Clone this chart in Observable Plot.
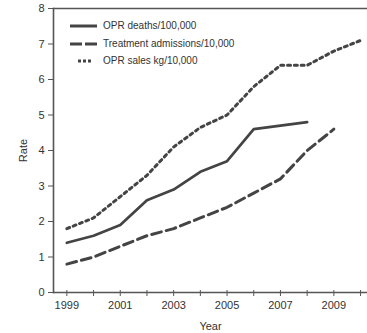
<!DOCTYPE html>
<html>
<head>
<meta charset="utf-8">
<script src="https://cdn.jsdelivr.net/npm/d3@7"></script>
<script src="https://cdn.jsdelivr.net/npm/@observablehq/plot@0.6"></script>
<style>
  html, body { margin: 0; padding: 0; background: #fff; }
  #chart { position: relative; width: 367px; height: 333px; }
  #legend { position: absolute; left: 0; top: 0; font-family: "Liberation Sans", Arial, sans-serif; font-size: 10px; color: #333; }
  .row { position: absolute; white-space: nowrap; height: 12px; line-height: 12px; }
  .row svg { position: absolute; left: 0; top: 0; }
  .row span { position: absolute; left: 33px; top: 0; }
</style>
</head>
<body>
<div id="chart"></div>
<script>
const years = [1999, 2000, 2001, 2002, 2003, 2004, 2005, 2006, 2007, 2008, 2009, 2010];
const deaths = [1.4, 1.6, 1.9, 2.6, 2.9, 3.4, 3.7, 4.6, 4.7, 4.8];
const admissions = [0.8, 1.0, 1.3, 1.6, 1.8, 2.1, 2.4, 2.8, 3.2, 4.0, 4.6];
const sales = [1.8, 2.1, 2.7, 3.3, 4.1, 4.65, 5.0, 5.8, 6.4, 6.4, 6.8, 7.1];
const seriesNames = ["OPR deaths/100,000", "Treatment admissions/10,000", "OPR sales kg/10,000"];
const yTicks = [0, 1, 2, 3, 4, 5, 6, 7, 8];
const xTickLabels = [1999, 2001, 2003, 2005, 2007, 2009];

const ink = "#444";
const toRows = (vals) => vals.map((v, i) => ({year: years[i], value: v}));

const plot = Plot.plot({
  width: 367,
  height: 333,
  marginLeft: 53,
  marginRight: 0,
  marginTop: 8,
  marginBottom: 41,
  style: {fontFamily: "'Liberation Sans', Arial, sans-serif", fontSize: "11px", color: "#333", background: "#fff"},
  x: {domain: [1998.5, 2010.26]},
  y: {domain: [0, 8]},
  marks: [
    Plot.ruleY([0, 8], {stroke: "#555", strokeWidth: 1.6}),
    Plot.frame({anchor: "left", stroke: "#555", strokeWidth: 1.6}),
    Plot.axisY({ticks: yTicks, tickSize: 5, tickPadding: 4, stroke: "#555", label: "Rate", labelAnchor: "center", labelOffset: 34, labelArrow: "none"}),
    Plot.axisX({ticks: years, tickSize: 6, dy: -2, tickPadding: 5, stroke: "#555",
      tickFormat: d => xTickLabels.includes(d) ? String(d) : "",
      label: "Year", labelAnchor: "center", labelOffset: 37, labelArrow: "none"}),
    Plot.line(toRows(admissions), {x: "year", y: "value", stroke: ink, strokeWidth: 3, strokeDasharray: "10 5"}),
    Plot.line(toRows(sales), {x: "year", y: "value", stroke: ink, strokeWidth: 3, strokeDasharray: "3 3.8"}),
    Plot.line(toRows(deaths), {x: "year", y: "value", stroke: ink, strokeWidth: 2.7})
  ]
});

const chart = document.getElementById("chart");
chart.appendChild(plot);

// legend overlay
const legend = document.createElement("div");
legend.id = "legend";
const samples = [
  `<line x1="0" y1="6" x2="27" y2="6" stroke="${ink}" stroke-width="3"/>`,
  `<line x1="0" y1="6" x2="27" y2="6" stroke="${ink}" stroke-width="3" stroke-dasharray="12 3"/>`,
  `<line x1="8" y1="6" x2="22" y2="6" stroke="${ink}" stroke-width="3" stroke-dasharray="3 2"/>`
];
const rowTops = [20, 37.5, 55];
seriesNames.forEach((name, i) => {
  const row = document.createElement("div");
  row.className = "row";
  row.style.left = "70px";
  row.style.top = rowTops[i] + "px";
  row.innerHTML = `<svg width="30" height="12">${samples[i]}</svg><span>${name}</span>`;
  legend.appendChild(row);
});
chart.appendChild(legend);
</script>
</body>
</html>
